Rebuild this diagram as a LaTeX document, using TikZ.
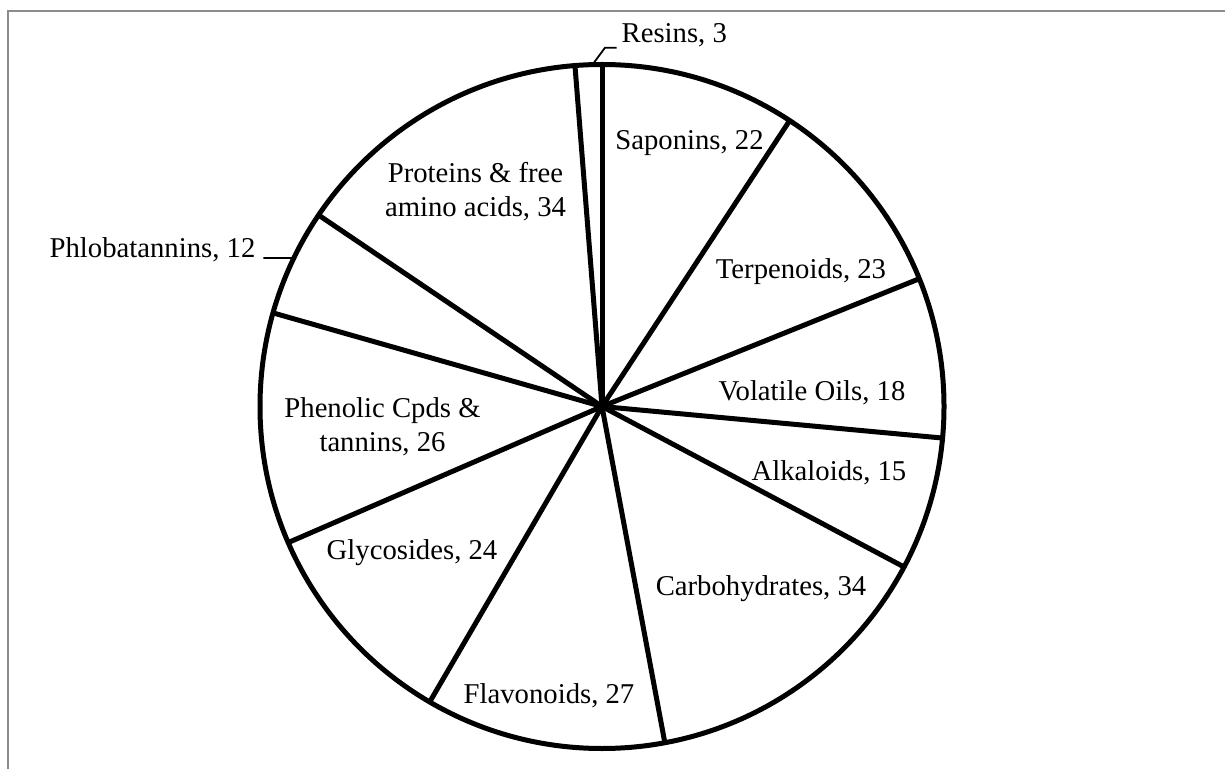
\documentclass[tikz,border=0pt]{standalone}
\usepackage{fontspec}
\setmainfont{Liberation Serif}
\begin{document}
\begin{tikzpicture}[x=1pt,y=1pt,
  slice/.style={line width=5pt, line cap=butt},
  rim/.style={line width=5pt},
  leader/.style={line width=1.8pt},
  frameline/.style={line width=2pt, draw=black!45},
  lbl/.style={font=\fontsize{28.7}{34}\selectfont, inner sep=0pt, anchor=base, align=center}]
\useasboundingbox (0,0) rectangle (1225,769);
\draw[frameline] (7.5,0) -- (7.5,757.5) -- (1225,757.5);
\coordinate (c) at (602,362.5);
\foreach \a [count=\i] in {90,56.723,21.933,-5.294,-27.983,-79.412,-120.252,-156.555,-195.883,-214.034,-265.463}{
  \path (c) ++(\a:342) coordinate (b\i);
  \draw[slice] (c) -- (b\i);
}
\draw[rim] (c) circle[radius=342];
% labels
\node[lbl] (res) at (674.3,726.3) {Resins, 3};
\node[lbl] (sap) at (689.5,619) {Saponins, 22};
\node[lbl] (ter) at (801,490) {Terpenoids, 23};
\node[lbl] (vol) at (812,368.5) {Volatile Oils, 18};
\node[lbl] (alk) at (829,289) {Alkaloids, 15};
\node[lbl] (car) at (761,174) {Carbohydrates, 34};
\node[lbl] (fla) at (549,66) {Flavonoids, 27};
\node[lbl] (gly) at (412,210) {Glycosides, 24};
\node[lbl] (phe) at (382.5,318) {Phenolic Cpds \&\\tannins, 26};
\node[lbl] (phl) at (152.5,511.7) {Phlobatannins, 12};
\node[lbl] (pro) at (475.5,552) {Proteins \& free\\amino acids, 34};
% leaders
\path (c) ++(91.6:342) coordinate (rA);
\coordinate (rK) at (605,721.3);
\coordinate (rE) at (616.7,721.3);
\draw[leader] (rA) -- (rK) -- (rE);
\path (c) ++(154.27:342) coordinate (pA);
\coordinate (pE) at (263.3,511);
\draw[leader] (pE) -- (pA);
\end{tikzpicture}
\end{document}
